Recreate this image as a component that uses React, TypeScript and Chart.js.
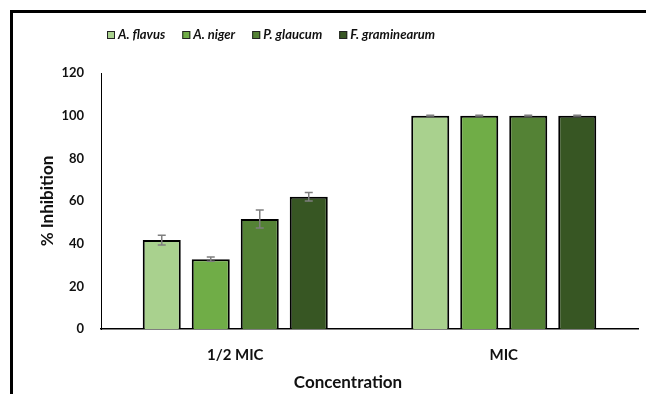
import React, { useEffect, useRef } from "react";
import { Chart, registerables } from "chart.js";

Chart.register(...registerables);

const categories = ["1/2 MIC", "MIC"];
const seriesNames = ["A. flavus", "A. niger", "P. glaucum", "F. graminearum"];
const flavus = [41.7, 100];
const niger = [32.7, 100];
const glaucum = [51.6, 100];
const graminearum = [62.0, 100];
const flavusErr = [2.3, 0.2];
const nigerErr = [1.0, 0.2];
const glaucumErr = [4.2, 0.2];
const graminearumErr = [2.0, 0.2];
const colors = ["#A9D18E", "#70AD47", "#548235", "#375623"];
const yTicks = [0, 20, 40, 60, 80, 100, 120];
const xTitle = "Concentration";
const yTitle = "% Inhibition";

const values = [flavus, niger, glaucum, graminearum];
const errors = [flavusErr, nigerErr, glaucumErr, graminearumErr];

const FONT = "Lato, 'Open Sans', sans-serif";
const TEXT = "#111111";

const framePlugin = {
  id: "frame",
  beforeDraw(chart: any) {
    const ctx = chart.ctx;
    ctx.save();
    ctx.fillStyle = "#ffffff";
    ctx.fillRect(0, 0, chart.width, chart.height);
    ctx.fillStyle = "#000000";
    ctx.fillRect(10, 10, chart.width - 10, 3);
    ctx.fillRect(10, 10, 3, chart.height - 10);
    ctx.restore();
  },
};

const errorBarPlugin = {
  id: "errorBars",
  afterDatasetsDraw(chart: any) {
    const ctx = chart.ctx;
    const yScale = chart.scales.y;
    ctx.save();
    ctx.strokeStyle = "#7F7F7F";
    ctx.lineWidth = 1.5;
    chart.data.datasets.forEach((ds: any, di: number) => {
      const meta = chart.getDatasetMeta(di);
      meta.data.forEach((bar: any, i: number) => {
        const v = ds.data[i];
        const e = errors[di][i];
        const x = bar.x;
        const yTop = yScale.getPixelForValue(v + e);
        const yBot = yScale.getPixelForValue(v - e);
        ctx.beginPath();
        ctx.moveTo(x, yTop);
        ctx.lineTo(x, yBot);
        ctx.moveTo(x - 4, yTop);
        ctx.lineTo(x + 4, yTop);
        ctx.moveTo(x - 4, yBot);
        ctx.lineTo(x + 4, yBot);
        ctx.stroke();
      });
    });
    ctx.restore();
  },
};

const legendAndTitlePlugin = {
  id: "customLegend",
  afterDraw(chart: any) {
    const ctx = chart.ctx;
    ctx.save();
    ctx.font = `italic bold 13px ${FONT}`;
    ctx.textBaseline = "middle";
    ctx.textAlign = "left";
    let x = 107;
    const cy = 35;
    seriesNames.forEach((name, i) => {
      ctx.fillStyle = colors[i];
      ctx.fillRect(x, cy - 4, 8, 8);
      ctx.strokeStyle = "#222222";
      ctx.lineWidth = 1;
      ctx.strokeRect(x + 0.5, cy - 3.5, 7, 7);
      ctx.fillStyle = TEXT;
      ctx.fillText(name, x + 11, cy);
      x += 11 + ctx.measureText(name).width + 17;
    });
    ctx.font = `bold 17px ${FONT}`;
    ctx.textAlign = "center";
    ctx.fillStyle = TEXT;
    ctx.fillText(xTitle, 348, 383);
    ctx.restore();
  },
};

export default function App() {
  const ref = useRef<HTMLCanvasElement>(null);
  useEffect(() => {
    if (!ref.current) return;
    const chart = new Chart(ref.current, {
      type: "bar",
      data: {
        labels: categories,
        datasets: seriesNames.map((name, i) => ({
          label: name,
          data: values[i],
          backgroundColor: colors[i],
          borderColor: "#000000",
          borderWidth: 2,
          barPercentage: 0.776,
          categoryPercentage: 0.73,
        })),
      },
      options: {
        responsive: false,
        animation: false,
        layout: { padding: { left: 37, right: 8, top: 73, bottom: 0 } },
        plugins: {
          legend: { display: false },
          tooltip: { enabled: false },
          title: { display: false },
        },
        scales: {
          x: {
            grid: { display: false, drawTicks: false },
            border: { display: true, color: "#000000", width: 1.5 },
            ticks: {
              padding: 17,
              color: TEXT,
              font: { family: FONT, size: 15, weight: "bold" },
            },
            afterFit(scale: any) {
              scale.height = 65;
            },
          },
          y: {
            min: 0,
            max: 120,
            afterBuildTicks(scale: any) {
              scale.ticks = yTicks.map((v) => ({ value: v }));
            },
            grid: { display: false, drawTicks: false },
            border: { display: true, color: "#000000", width: 1 },
            ticks: {
              padding: 17,
              color: TEXT,
              font: { family: FONT, size: 13, weight: "bold" },
            },
            title: {
              display: true,
              text: yTitle,
              color: TEXT,
              padding: 0,
              font: { family: FONT, size: 17, weight: "bold" },
            },
            afterFit(scale: any) {
              scale.width = 64;
            },
          },
        },
      },
      plugins: [framePlugin, errorBarPlugin, legendAndTitlePlugin],
    } as any);
    return () => chart.destroy();
  }, []);
  return (
    <div style={{ position: "fixed", left: 0, top: 0, width: 646, height: 394 }}>
      <canvas ref={ref} width={646} height={394} style={{ display: "block" }} />
    </div>
  );
}
